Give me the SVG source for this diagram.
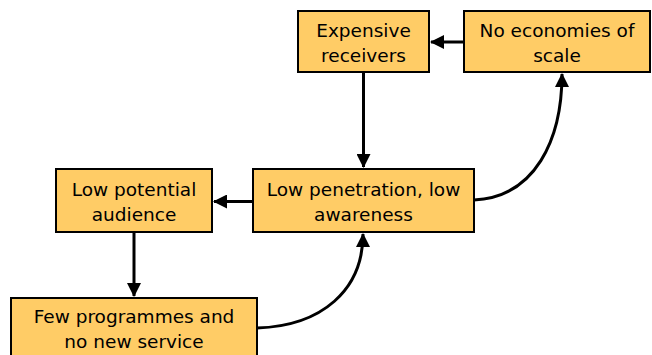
<svg xmlns="http://www.w3.org/2000/svg" width="652" height="355" viewBox="0 0 652 355">
  <style>
    .box rect { fill: #FFCC66; stroke: #000; stroke-width: 2; }
    .box text { font-family: "DejaVu Sans", Verdana, sans-serif; font-size: 18.5px; fill: #000; text-anchor: middle; }
    .link { fill: none; stroke: #000; stroke-width: 3; }
  </style>
  <defs>
    <marker id="arrow" markerUnits="userSpaceOnUse" markerWidth="14" markerHeight="14" refX="13" refY="7" orient="auto">
      <path d="M0,0 L14,7 L0,14 Z" fill="#000"/>
    </marker>
  </defs>

  <g id="connectors">
    <!-- No economies of scale -> Expensive receivers -->
    <path class="link" d="M464,42 L431,42" marker-end="url(#arrow)"/>
    <!-- Expensive receivers -> Low penetration -->
    <path class="link" d="M363.5,72 L363.5,167" marker-end="url(#arrow)"/>
    <!-- Low penetration -> Low potential audience -->
    <path class="link" d="M253,201.5 L214,201.5" marker-end="url(#arrow)"/>
    <!-- Low potential audience -> Few programmes -->
    <path class="link" d="M134,232 L134,296" marker-end="url(#arrow)"/>
    <!-- Few programmes -> Low penetration (curved) -->
    <path class="link" d="M257,328 C322,326 363,290 363,234" marker-end="url(#arrow)"/>
    <!-- Low penetration -> No economies of scale (curved) -->
    <path class="link" d="M474,200 C535,197 562,140 562,74" marker-end="url(#arrow)"/>
  </g>

  <g id="expensive-receivers" class="box">
    <rect x="298" y="11" width="131" height="61"/>
    <text x="363.5" y="37">Expensive</text>
    <text x="363.5" y="62">receivers</text>
  </g>

  <g id="no-economies-of-scale" class="box">
    <rect x="464" y="11" width="186" height="61"/>
    <text x="557" y="37">No economies of</text>
    <text x="557" y="62">scale</text>
  </g>

  <g id="low-potential-audience" class="box">
    <rect x="56" y="169" width="156" height="63"/>
    <text x="134" y="196">Low potential</text>
    <text x="134" y="221">audience</text>
  </g>

  <g id="low-penetration" class="box">
    <rect x="253" y="169" width="221" height="63"/>
    <text x="363.5" y="196">Low penetration, low</text>
    <text x="363.5" y="221">awareness</text>
  </g>

  <g id="few-programmes" class="box">
    <rect x="11" y="298" width="246" height="64"/>
    <text x="134" y="323">Few programmes and</text>
    <text x="134" y="348">no new service</text>
  </g>
</svg>
